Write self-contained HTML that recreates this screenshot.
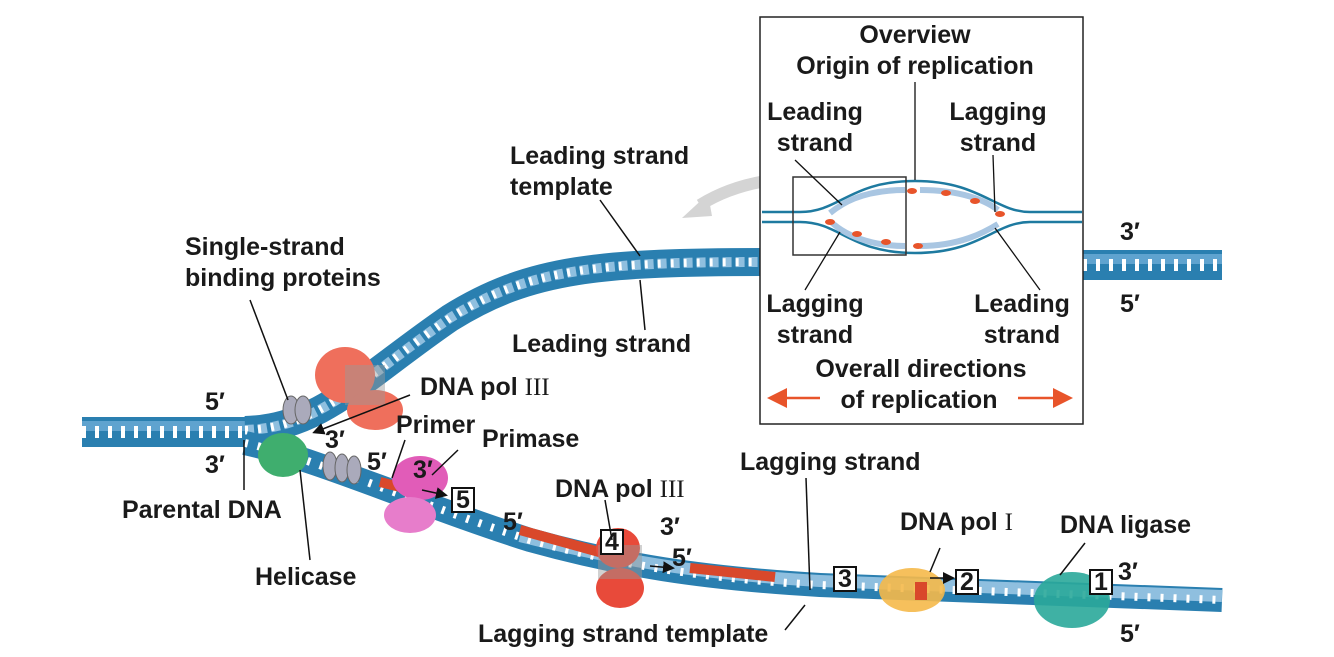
<!DOCTYPE html>
<html><head><meta charset="utf-8"><style>
html,body{margin:0;padding:0;background:#fff;}
svg{display:block;}
text{font-family:"Liberation Sans",Arial,sans-serif;font-weight:bold;font-size:25px;fill:#1a1a1a;}
.s{font-family:"Liberation Serif",serif;font-weight:normal;}
</style></head><body>
<svg width="1334" height="657" viewBox="0 0 1334 657" xmlns="http://www.w3.org/2000/svg">
<defs>
<marker id="ah" markerWidth="8" markerHeight="8" refX="6" refY="4" orient="auto"><path d="M0,0 L8,4 L0,8 z" fill="#111"/></marker>
<marker id="ao" markerWidth="8" markerHeight="8" refX="6" refY="4" orient="auto"><path d="M0,0 L8,4 L0,8 z" fill="#e8542a"/></marker>
</defs>
<path d="M860,185 C800,170 740,180 700,205" stroke="#d4d4d4" stroke-width="12" fill="none"/>
<path d="M682,218 L708,194 L712,216 z" fill="#d4d4d4"/>
<g fill="none">
<path d="M82,432 L250,432" stroke="#2a7fb0" stroke-width="30"/>
<path d="M82,426 L250,426" stroke="#5fa3cf" stroke-width="10"/>
<path d="M82,432 L250,432" stroke="#fff" stroke-width="12" stroke-dasharray="4 9"/>
<path d="M245,430 C320,428 360,380 450,318 C530,268 600,262 770,262" stroke="#2a7fb0" stroke-width="28"/>
<path d="M245,430 C320,428 360,380 450,318 C530,268 600,262 770,262" stroke="#8fbfdf" stroke-width="10" stroke-dasharray="9 4"/>
<path d="M245,430 C320,428 360,380 450,318 C530,268 600,262 770,262" stroke="#fff" stroke-width="8" stroke-dasharray="3 10"/>
<path d="M1083,265 L1222,265" stroke="#2a7fb0" stroke-width="30"/>
<path d="M1083,259 L1222,259" stroke="#5fa3cf" stroke-width="10"/>
<path d="M1083,265 L1222,265" stroke="#fff" stroke-width="12" stroke-dasharray="4 9"/>
<path d="M245,443 C320,460 420,505 530,540 C620,565 700,578 820,585 L1222,600" stroke="#2a7fb0" stroke-width="24"/>
<path d="M520,536 C620,561 700,574 820,581 L1222,596" stroke="#8fbfdf" stroke-width="12"/>
<path d="M245,443 C320,460 420,505 530,540 C620,565 700,578 820,585 L1222,600" stroke="#fff" stroke-width="8" stroke-dasharray="3 10"/>
<path d="M380,482 L420,492" stroke="#d9482b" stroke-width="10"/>
<path d="M520,530 L610,555" stroke="#d9482b" stroke-width="10"/>
<path d="M690,568 L775,577" stroke="#d9482b" stroke-width="10"/>
</g>
<ellipse cx="345" cy="375" rx="30" ry="28" fill="#ef6f5c"/>
<ellipse cx="375" cy="410" rx="28" ry="20" fill="#ef6f5c"/>
<rect x="345" y="365" width="40" height="40" fill="#999" opacity="0.45"/>
<ellipse cx="283" cy="455" rx="25" ry="22" fill="#3fae6e"/>
<ellipse cx="291" cy="410" rx="8" ry="14" fill="#aab" stroke="#666"/>
<ellipse cx="303" cy="410" rx="8" ry="14" fill="#aab" stroke="#666"/>
<ellipse cx="330" cy="466" rx="7" ry="14" fill="#aab" stroke="#666"/>
<ellipse cx="342" cy="468" rx="7" ry="14" fill="#aab" stroke="#666"/>
<ellipse cx="354" cy="470" rx="7" ry="14" fill="#aab" stroke="#666"/>
<ellipse cx="420" cy="478" rx="28" ry="22" fill="#e15cb8"/>
<ellipse cx="410" cy="515" rx="26" ry="18" fill="#e77dcb"/>
<ellipse cx="618" cy="548" rx="22" ry="20" fill="#e84a3a"/>
<ellipse cx="620" cy="588" rx="24" ry="20" fill="#e84a3a"/>
<rect x="598" y="545" width="44" height="34" fill="#999" opacity="0.45"/>
<ellipse cx="912" cy="590" rx="33" ry="22" fill="#f5b94a" opacity="0.9"/>
<rect x="915" y="582" width="12" height="18" fill="#d9482b"/>
<ellipse cx="1072" cy="600" rx="38" ry="28" fill="#2aa89a" opacity="0.9"/>
<g fill="#fff" stroke="#111" stroke-width="2">
<rect x="452" y="488" width="22" height="24"/><rect x="601" y="530" width="22" height="24"/>
<rect x="834" y="567" width="22" height="24"/><rect x="956" y="570" width="22" height="24"/>
<rect x="1090" y="570" width="22" height="24"/>
</g>
<g style="font-size:21px">
<text x="456" y="508">5</text><text x="605" y="550">4</text><text x="838" y="587">3</text><text x="960" y="590">2</text><text x="1094" y="590">1</text>
</g>
<g stroke="#111" stroke-width="1.5" fill="none">
<line x1="600" y1="200" x2="640" y2="256"/>
<line x1="640" y1="280" x2="645" y2="330"/>
<line x1="250" y1="300" x2="288" y2="400"/>
<line x1="410" y1="395" x2="315" y2="432" marker-end="url(#ah)"/>
<line x1="244" y1="440" x2="244" y2="490"/>
<line x1="300" y1="470" x2="310" y2="560"/>
<line x1="405" y1="440" x2="392" y2="478"/>
<line x1="458" y1="450" x2="432" y2="475"/>
<line x1="422" y1="490" x2="445" y2="495" marker-end="url(#ah)"/>
<line x1="605" y1="500" x2="612" y2="540"/>
<line x1="650" y1="566" x2="672" y2="568" marker-end="url(#ah)"/>
<line x1="806" y1="478" x2="810" y2="590"/>
<line x1="785" y1="630" x2="805" y2="605"/>
<line x1="940" y1="548" x2="930" y2="572"/>
<line x1="930" y1="578" x2="952" y2="578" marker-end="url(#ah)"/>
<line x1="1085" y1="543" x2="1060" y2="575"/>
</g>
<rect x="760" y="17" width="323" height="407" fill="#fff" stroke="#222" stroke-width="1.5"/>
<g fill="none" stroke="#1e7aa0" stroke-width="2.5">
<path d="M762,212 L800,212 C840,212 850,181 915,181 C980,181 995,212 1030,212 L1082,212"/>
<path d="M762,222 L800,222 C840,222 850,253 915,253 C980,253 995,222 1030,222 L1082,222"/>
</g>
<g fill="none" stroke="#a9c6e2" stroke-width="6">
<path d="M905,190 C860,190 840,205 830,213"/>
<path d="M920,190 C960,190 985,200 998,210"/>
<path d="M830,221 C850,240 880,246 905,246"/>
<path d="M920,246 C960,246 985,232 998,224"/>
</g>
<g fill="#e8542a">
<ellipse cx="912" cy="191" rx="5" ry="3"/><ellipse cx="946" cy="193" rx="5" ry="3"/><ellipse cx="975" cy="201" rx="5" ry="3"/><ellipse cx="1000" cy="214" rx="5" ry="3"/>
<ellipse cx="830" cy="222" rx="5" ry="3"/><ellipse cx="857" cy="234" rx="5" ry="3"/><ellipse cx="886" cy="242" rx="5" ry="3"/><ellipse cx="918" cy="246" rx="5" ry="3"/>
</g>
<rect x="793" y="177" width="113" height="78" fill="none" stroke="#333" stroke-width="1.5"/>
<g stroke="#111" stroke-width="1.3">
<line x1="915" y1="82" x2="915" y2="180"/>
<line x1="795" y1="160" x2="842" y2="205"/>
<line x1="993" y1="155" x2="995" y2="212"/>
<line x1="805" y1="290" x2="840" y2="232"/>
<line x1="1040" y1="290" x2="995" y2="228"/>
<line x1="820" y1="398" x2="772" y2="398" marker-end="url(#ao)" stroke="#e8542a" stroke-width="2.5"/>
<line x1="1018" y1="398" x2="1068" y2="398" marker-end="url(#ao)" stroke="#e8542a" stroke-width="2.5"/>
</g>
<g text-anchor="middle">
<text x="915" y="43">Overview</text>
<text x="915" y="74">Origin of replication</text>
<text x="815" y="120">Leading</text><text x="815" y="151">strand</text>
<text x="998" y="120">Lagging</text><text x="998" y="151">strand</text>
<text x="815" y="312">Lagging</text><text x="815" y="343">strand</text>
<text x="1022" y="312">Leading</text><text x="1022" y="343">strand</text>
<text x="921" y="377">Overall directions</text>
<text x="919" y="408">of replication</text>
</g>
<text x="510" y="164">Leading strand</text>
<text x="510" y="195">template</text>
<text x="185" y="255">Single-strand</text>
<text x="185" y="286">binding proteins</text>
<text x="512" y="352">Leading strand</text>
<text x="420" y="395">DNA pol <tspan class="s">III</tspan></text>
<text x="396" y="433">Primer</text>
<text x="482" y="447">Primase</text>
<text x="122" y="518">Parental DNA</text>
<text x="255" y="585">Helicase</text>
<text x="555" y="497">DNA pol <tspan class="s">III</tspan></text>
<text x="740" y="470">Lagging strand</text>
<text x="900" y="530">DNA pol <tspan class="s">I</tspan></text>
<text x="1060" y="533">DNA ligase</text>
<text x="478" y="642">Lagging strand template</text>
<text x="205" y="410">5′</text>
<text x="205" y="473">3′</text>
<text x="325" y="448">3′</text>
<text x="367" y="470">5′</text>
<text x="413" y="478">3′</text>
<text x="503" y="530">5′</text>
<text x="660" y="535">3′</text>
<text x="672" y="566">5′</text>
<text x="1118" y="580">3′</text>
<text x="1120" y="642">5′</text>
<text x="1120" y="240">3′</text>
<text x="1120" y="312">5′</text>
</svg>
</body></html>
